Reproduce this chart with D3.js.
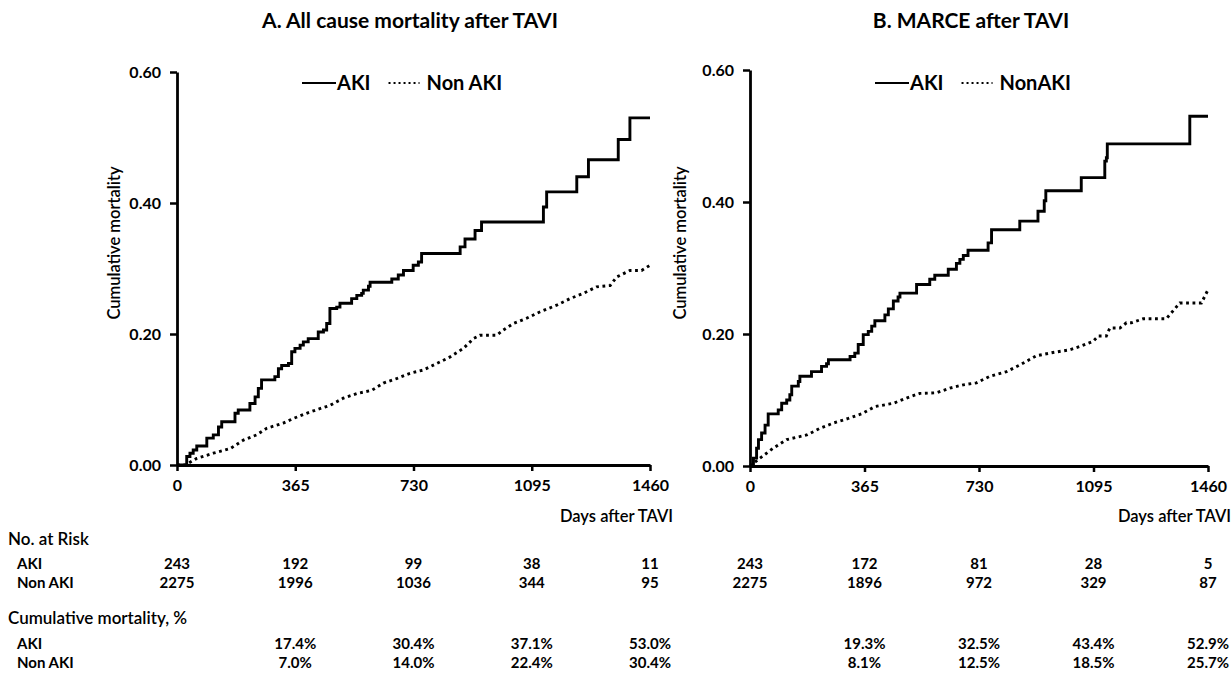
<!DOCTYPE html>
<html>
<head>
<meta charset="utf-8">
<script src="https://cdn.jsdelivr.net/npm/d3@7"></script>
<style>
  body { margin: 0; background: #fff; }
  svg  { display: block; font-family: Lato, "Open Sans", sans-serif; }
</style>
</head>
<body>
<svg id="chart" width="1232" height="682"></svg>
<script>
/* ── Data ─────────────────────────────────────────────────── */
const dayTicks   = [0, 365, 730, 1095, 1460];
const yTicks     = [0, 0.2, 0.4, 0.6];
const cumDays    = [365, 730, 1095, 1460];
const titles     = ["A. All cause mortality after TAVI", "B. MARCE after TAVI"];
const legendA    = ["AKI", "Non AKI"];
const legendB    = ["AKI", "NonAKI"];
const rowLabels  = ["AKI", "Non AKI"];

/* [day, cumulative incidence] */
const akiA = [[0,0],[14,0],[30,0.013],[40,0.018],[50,0.023],[61,0.029],[92,0.041],[112,0.046],
  [128,0.058],[138,0.066],[179,0.079],[189,0.084],[225,0.094],[241,0.104],[251,0.117],[261,0.130],
  [302,0.135],[313,0.147],[323,0.152],[344,0.155],[354,0.173],[364,0.178],[380,0.183],[390,0.188],
  [405,0.193],[436,0.203],[452,0.206],[462,0.216],[472,0.239],[493,0.241],[503,0.247],[539,0.254],
  [555,0.259],[570,0.262],[575,0.267],[591,0.273],[596,0.279],[663,0.284],[683,0.290],[699,0.297],
  [729,0.305],[745,0.310],[755,0.323],[874,0.333],[889,0.345],[920,0.358],[940,0.371],[1131,0.394],
  [1141,0.417],[1234,0.440],[1270,0.466],[1362,0.497],[1398,0.530],[1460,0.530]];

const nonAkiA = [[0,0],[25,0],[61,0.010],[112,0.018],[164,0.025],[205,0.038],[246,0.046],[277,0.056],
  [328,0.064],[359,0.071],[400,0.079],[441,0.086],[472,0.091],[513,0.102],[555,0.109],[601,0.114],
  [637,0.125],[678,0.132],[719,0.140],[760,0.145],[802,0.155],[843,0.165],[884,0.178],[915,0.193],
  [935,0.198],[987,0.198],[1007,0.206],[1038,0.216],[1079,0.224],[1121,0.234],[1172,0.244],
  [1213,0.254],[1254,0.262],[1295,0.272],[1337,0.274],[1357,0.287],[1398,0.297],[1434,0.297],
  [1460,0.305]];

const akiB = [[0,0],[11,0.012],[21,0.027],[27,0.040],[37,0.050],[48,0.062],[58,0.079],[90,0.085],
  [101,0.095],[117,0.100],[127,0.108],[133,0.121],[154,0.128],[159,0.136],[196,0.143],[228,0.151],
  [244,0.155],[250,0.161],[319,0.166],[334,0.171],[345,0.184],[361,0.199],[377,0.204],[388,0.212],
  [398,0.220],[430,0.229],[441,0.238],[457,0.250],[472,0.256],[478,0.262],[531,0.275],[573,0.283],
  [589,0.289],[632,0.298],[658,0.307],[669,0.313],[680,0.319],[695,0.327],[759,0.338],[770,0.358],
  [860,0.371],[918,0.386],[938,0.402],[943,0.417],[1056,0.437],[1131,0.462],[1136,0.467],
  [1139,0.488],[1402,0.530],[1460,0.530]];

const nonAkiB = [[0,0],[5,0.002],[32,0.012],[74,0.027],[117,0.040],[181,0.047],[223,0.057],
  [265,0.065],[313,0.072],[356,0.079],[398,0.090],[457,0.095],[499,0.103],[541,0.110],[595,0.111],
  [637,0.118],[680,0.123],[722,0.126],[765,0.136],[818,0.143],[860,0.153],[913,0.167],[966,0.172],
  [1019,0.176],[1051,0.181],[1094,0.189],[1110,0.197],[1136,0.197],[1147,0.209],[1179,0.209],
  [1200,0.217],[1216,0.217],[1253,0.223],[1327,0.223],[1370,0.247],[1439,0.247],[1460,0.267]];

const riskAkiA    = [243, 192, 99, 38, 11];
const riskNonAkiA = [2275, 1996, 1036, 344, 95];
const riskAkiB    = [243, 172, 81, 28, 5];
const riskNonAkiB = [2275, 1896, 972, 329, 87];

const cumAkiA    = ["17.4%", "30.4%", "37.1%", "53.0%"];
const cumNonAkiA = ["7.0%", "14.0%", "22.4%", "30.4%"];
const cumAkiB    = ["19.3%", "32.5%", "43.4%", "52.9%"];
const cumNonAkiB = ["8.1%", "12.5%", "18.5%", "25.7%"];

/* ── Layout ───────────────────────────────────────────────── */
const svg = d3.select("#chart");
svg.append("rect").attr("width", 1232).attr("height", 682).attr("fill", "#fff");

const ROW_Y = { risk: 539, riskAki: 564, riskNon: 583, cum: 618, cumAki: 644, cumNon: 663 };

const panels = [
  { title: titles[0], legend: legendA, x0: 177, x1: 650, yTop: 72, yBot: 465, yTitleX: 114, titleX: 410,
    aki: akiA, non: nonAkiA, riskAki: riskAkiA, riskNon: riskNonAkiA, cumAki: cumAkiA, cumNon: cumNonAkiA },
  { title: titles[1], legend: legendB, x0: 750, x1: 1208, yTop: 70, yBot: 466, yTitleX: 680, titleX: 971,
    aki: akiB, non: nonAkiB, riskAki: riskAkiB, riskNon: riskNonAkiB, cumAki: cumAkiB, cumNon: cumNonAkiB },
];

function drawPanel(p) {
  const x = d3.scaleLinear().domain([0, 1460]).range([p.x0, p.x1]);
  const y = d3.scaleLinear().domain([0, 0.6]).range([p.yBot, p.yTop]);
  const g = svg.append("g");

  /* Title */
  g.append("text")
    .attr("x", p.titleX).attr("y", 28)
    .attr("text-anchor", "middle")
    .attr("font-size", 21).attr("font-weight", 700)
    .text(p.title);

  /* Axes */
  const yAxis = d3.axisLeft(y).tickValues(yTicks).tickFormat(d3.format(".2f"))
    .tickSize(7).tickSizeOuter(0).tickPadding(9);
  const xAxis = d3.axisBottom(x).tickValues(dayTicks).tickFormat(d3.format("d"))
    .tickSize(6).tickSizeOuter(0).tickPadding(9);

  const ya = g.append("g").attr("transform", `translate(${p.x0},0)`).call(yAxis);
  const xa = g.append("g").attr("transform", `translate(0,${p.yBot})`).call(xAxis);
  [ya, xa].forEach(a => {
    a.select(".domain").attr("stroke", "#000").attr("stroke-width", 2.8);
    a.selectAll(".tick line").attr("stroke", "#000").attr("stroke-width", 2.5);
    a.selectAll(".tick text").attr("fill", "#000")
      .attr("font-family", "Lato, sans-serif").attr("font-size", 16).attr("font-weight", 700);
  });

  /* Axis titles */
  g.append("text")
    .attr("transform", `translate(${p.yTitleX},243) rotate(-90)`)
    .attr("text-anchor", "middle").attr("dy", "0.35em")
    .attr("font-size", 16.5).attr("font-weight", 600)
    .text("Cumulative mortality");

  g.append("text")
    .attr("x", p.x1 + 23).attr("y", 516).attr("dy", "0.35em")
    .attr("text-anchor", "end")
    .attr("font-size", 16.5).attr("font-weight", 600)
    .text("Days after TAVI");

  /* Curves */
  const lineStep = d3.line().x(d => x(d[0])).y(d => y(d[1])).curve(d3.curveStepAfter);
  const lineLin  = d3.line().x(d => x(d[0])).y(d => y(d[1]));

  g.append("path").datum(p.non)
    .attr("d", lineLin).attr("fill", "none")
    .attr("stroke", "#000").attr("stroke-width", 2.9)
    .attr("stroke-dasharray", "2.8,3.6");

  g.append("path").datum(p.aki)
    .attr("d", lineStep).attr("fill", "none")
    .attr("stroke", "#000").attr("stroke-width", 2.9)
    .attr("stroke-linejoin", "miter");

  /* Legend */
  const lx = p.x0 + 125, ly = 83;
  const leg = g.append("g").attr("font-size", 20).attr("font-weight", 700);
  leg.append("line").attr("x1", lx).attr("x2", lx + 34).attr("y1", ly).attr("y2", ly)
    .attr("stroke", "#000").attr("stroke-width", 2);
  const t1 = leg.append("text").attr("x", lx + 35).attr("y", ly).attr("dy", "0.35em").text(p.legend[0]);
  const w1 = t1.node().getComputedTextLength();
  const dx = lx + 35 + w1 + 18;
  leg.append("line").attr("x1", dx).attr("x2", dx + 31).attr("y1", ly).attr("y2", ly)
    .attr("stroke", "#000").attr("stroke-width", 2).attr("stroke-dasharray", "2,3");
  leg.append("text").attr("x", dx + 38).attr("y", ly).attr("dy", "0.35em").text(p.legend[1]);

  /* Table columns under each tick */
  const tbl = g.append("g").attr("font-size", 15).attr("font-weight", 700).attr("text-anchor", "middle");
  dayTicks.forEach((d, i) => {
    tbl.append("text").attr("x", x(d)).attr("y", ROW_Y.riskAki).attr("dy", "0.35em").text(p.riskAki[i]);
    tbl.append("text").attr("x", x(d)).attr("y", ROW_Y.riskNon).attr("dy", "0.35em").text(p.riskNon[i]);
  });
  cumDays.forEach((d, i) => {
    tbl.append("text").attr("x", x(d)).attr("y", ROW_Y.cumAki).attr("dy", "0.35em").text(p.cumAki[i]);
    tbl.append("text").attr("x", x(d)).attr("y", ROW_Y.cumNon).attr("dy", "0.35em").text(p.cumNon[i]);
  });
}

panels.forEach(drawPanel);

/* Row headers */
const hdr = svg.append("g");
hdr.append("text").attr("x", 8).attr("y", ROW_Y.risk).attr("dy", "0.35em")
  .attr("font-size", 17).attr("font-weight", 600).text("No. at Risk");
hdr.append("text").attr("x", 8).attr("y", ROW_Y.cum).attr("dy", "0.35em")
  .attr("font-size", 17).attr("font-weight", 600).text("Cumulative mortality, %");
[[ROW_Y.riskAki, ROW_Y.riskNon], [ROW_Y.cumAki, ROW_Y.cumNon]].forEach(ys => {
  ys.forEach((yy, i) => {
    hdr.append("text").attr("x", 17).attr("y", yy).attr("dy", "0.35em")
      .attr("font-size", 15).attr("font-weight", 700).text(rowLabels[i]);
  });
});
</script>
</body>
</html>
